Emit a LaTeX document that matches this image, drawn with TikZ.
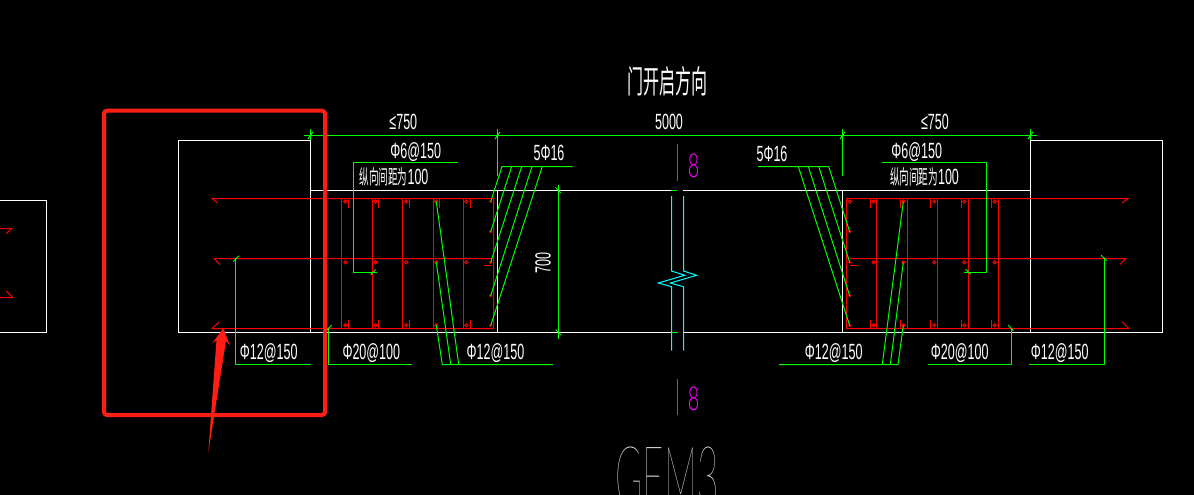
\documentclass[tikz,border=0pt]{standalone}
\usepackage{fontspec}
\newfontfamily\cadf[FakeStretch=0.57]{Liberation Sans}
\newfontfamily\cjkf[FakeStretch=0.48]{Noto Sans CJK SC}
\newfontfamily\titlef[FakeStretch=0.5]{Noto Sans CJK SC}
\newfontfamily\thinf[FakeStretch=0.6]{Lato Light}
\newfontfamily\gemf[FakeStretch=0.44]{Lato Thin}
\definecolor{cadgreen}{RGB}{0,255,0}
\definecolor{cadred}{RGB}{255,0,0}
\definecolor{cadcyan}{RGB}{0,255,255}
\definecolor{cadmag}{RGB}{255,0,255}
\definecolor{markred}{RGB}{255,30,20}
\tikzset{
  wall/.style={draw=white,line width=1pt},
  rebar/.style={draw=cadred,line width=1pt},
  lead/.style={draw=cadgreen,line width=1pt},
  breakline/.style={draw=cadcyan,line width=1pt},
  sect/.style={draw=cadmag,line width=1pt},
  lbl/.style={text=white,inner sep=0pt,font=\fontsize{22}{22}\cadf},
  cjklbl/.style={text=white,inner sep=0pt,font=\fontsize{20}{20}\cjkf},
}
\begin{document}
\begin{tikzpicture}[x=1pt,y=-1pt]
\useasboundingbox (0,0) rectangle (1194,495);
\clip (0,0) rectangle (1194,495);
\fill[black] (0,0) rectangle (1194,495);
% walls
\draw[wall] (0,200.5) -- (46.5,200.5) -- (46.5,332.5) -- (0,332.5);
\draw[wall] (310.5,190.5) -- (310.5,140.5) -- (178.5,140.5) -- (178.5,332.5) -- (671,332.5);
\draw[wall] (310.5,190.5) -- (671,190.5);
\draw[wall] (310.5,190.5) -- (310.5,332.5);
\draw[wall] (497.5,190.5) -- (497.5,332.5);
\draw[wall] (683,190.5) -- (1030.5,190.5);
\draw[wall] (683,332.5) -- (1162.5,332.5) -- (1162.5,140.5) -- (1030.5,140.5) -- (1030.5,332.5);
\draw[wall] (842.5,190.5) -- (842.5,332.5);
% left fragment bars
\draw[rebar] (0,228.5) -- (11.7,228.5) -- (6,233.7);
\draw[rebar] (0,297.5) -- (12.7,297.5) -- (6,291);
% left bars
\draw[rebar] (217.7,203) -- (212,198.5) -- (493.5,198.5) -- (493.5,328.5) -- (212,328.5) -- (219,322);
\draw[rebar] (220,264.7) -- (214,258.5) -- (491.7,258.5);
\foreach \x in {341.5,372.5,402.5,433.5,463.5} \draw[rebar] (\x,198.5) -- (\x,328.5);
\foreach \x in {348.5,378.5,409.5,439.5,470.5} \draw[rebar] (\x,198.5) -- (\x,207.7);
\foreach \x in {348.5,378.5,409.5,470.5} \draw[rebar] (\x,320) -- (\x,328.5);
\foreach \x in {345.3,375.5,406.3,436.3,466.3} \foreach \y in {201.5,262.3,325.3}
  \draw[rebar,line width=1pt] (\x,\y) circle (1.6);
\foreach \y in {201.5,231.7,262.3,295.7,325.5} \fill[cadred] (490.7,\y) circle (1.7);
\draw[rebar] (484,265.5) -- (491,265.5);
% right bars
\draw[rebar] (1122,203) -- (1128,198.5) -- (846.5,198.5) -- (846.5,328.5) -- (1128.7,328.5) -- (1122.3,322);
\draw[rebar] (1120,264.5) -- (1125.7,258.5) -- (850,258.5);
\foreach \x in {876.5,907.5,937.5,968.5,998.5} \draw[rebar] (\x,198.5) -- (\x,328.5);
\foreach \x in {870.5,900.5,930.5,961.5,991.5} {
  \draw[rebar] (\x,198.5) -- (\x,207.7);
  \draw[rebar] (\x,320) -- (\x,328.5);
}
\foreach \x in {873.5,903.3,934.3,964.3,994.7} \foreach \y in {201.5,262.3,325.3}
  \draw[rebar,line width=1pt] (\x,\y) circle (1.6);
\draw[rebar,line width=1pt] (850,201.5) circle (1.6);
\foreach \y in {231.7,262.3,295.7,325.5} \fill[cadred] (849.7,\y) circle (1.7);
\draw[rebar] (850,265.5) -- (857,265.5);
% dimension lines
\draw[lead] (304,135.5) -- (1036.7,135.5);
\draw[lead] (310.5,129) -- (310.5,140);
\draw[lead] (497.5,129) -- (497.5,176);
\draw[lead] (842.5,129) -- (842.5,175.7);
\draw[lead] (1030.5,129) -- (1030.5,140);
\foreach \x in {310.5,497.5,842.5,1030.5} \draw[lead] (\x-2.5,139) -- (\x+2.5,132);
\draw[lead] (558.5,185) -- (558.5,339);
\draw[lead] (555.5,187.5) -- (561,193);
\draw[lead] (555.5,329.5) -- (561,335);
\draw[lead] (671,190.5) -- (677,190.5);
\draw[lead] (671,332.5) -- (678,332.5);
% 5 phi 16 left
\draw[lead] (572.7,166.5) -- (502,166.5) -- (490.7,201.5);
\draw[lead] (511.7,166.5) -- (490.7,231.7);
\draw[lead] (521.7,166.5) -- (490.7,262.3);
\draw[lead] (532,166.5) -- (490.7,295.7);
\draw[lead] (542.3,166.5) -- (490.7,325.5);
% 5 phi 16 right
\draw[lead] (758,166.5) -- (828.7,166.5) -- (849.7,231.7);
\draw[lead] (818.7,166.5) -- (849.7,262.3);
\draw[lead] (808.3,166.5) -- (849.7,295.7);
\draw[lead] (798.3,166.5) -- (849.7,325.5);
% phi 6 leaders
\draw[lead] (457.7,162.5) -- (353.5,162.5) -- (353.5,272.5) -- (376.7,272.5);
\draw[lead] (370.7,274.8) -- (375.7,269.5);
\draw[lead] (882.3,162.5) -- (986.5,162.5) -- (986.5,272.5) -- (964.3,272.5);
\draw[lead] (965.7,269.3) -- (970.7,274.5);
% bottom leaders left
\draw[lead] (235.5,258.3) -- (235.5,364.5) -- (310.7,364.5);
\draw[lead] (233.3,261.7) -- (239,255.7);
\draw[lead] (328.5,328.3) -- (328.5,364.5) -- (411.7,364.5);
\draw[lead] (326,331) -- (331.7,325);
\draw[lead] (553,364.5) -- (442.3,364.5) -- (436.3,325.3);
\draw[lead] (450.7,364.5) -- (436.3,262.3);
\draw[lead] (458.7,364.5) -- (436.3,201.5);
% bottom leaders right
\draw[lead] (779,364.5) -- (898,364.5) -- (903.3,325.3);
\draw[lead] (890.3,364.5) -- (903.3,262.3);
\draw[lead] (882.3,364.5) -- (903.3,201.5);
\draw[lead] (928,364.5) -- (1011.5,364.5) -- (1011.5,328.3);
\draw[lead] (1008.3,325) -- (1013.3,330.7);
\draw[lead] (1029,364.5) -- (1104.5,364.5) -- (1104.5,258.3);
\draw[lead] (1101,255) -- (1106.7,260.7);
% break line
\draw[breakline] (671.5,196) -- (671.5,271) -- (684.7,275.3) -- (658.3,283) -- (671.5,286.7) -- (671.5,350.7);
\draw[breakline] (683.5,196) -- (683.5,271) -- (696.7,275.3) -- (670.3,283) -- (683.5,286.7) -- (683.5,350.7);
% section marks
\draw[sect] (677.5,144) -- (677.5,180.7);
\draw[sect] (677.5,379) -- (677.5,415);
\node[text=cadmag,inner sep=0pt,font=\fontsize{33}{33}\thinf] (secA) at (693.7,165.7) {8};
\node[text=cadmag,inner sep=0pt,font=\fontsize{33}{33}\thinf] (secB) at (693.7,399.3) {8};
% labels
\node[lbl] (dimA) at (403.3,122.3) {≤750};
\node[lbl] (dimB) at (669,121.5) {5000};
\node[lbl] (dimC) at (935,122.3) {≤750};
\node[lbl] (stirA) at (415.7,151.7) {Φ6@150};
\node[lbl] (stirB) at (916.7,151.7) {Φ6@150};
\node[cjklbl] (noteA) at (394,176.7) {纵向间距为{\fontsize{22}{22}\cadf 100}};
\node[cjklbl] (noteB) at (924.5,176.7) {纵向间距为{\fontsize{22}{22}\cadf 100}};
\node[lbl] (barA) at (549,153.3) {5Φ16};
\node[lbl] (barB) at (772,153.5) {5Φ16};
\node[lbl,rotate=90] (h700) at (543,263) {700};
\node[lbl] (botA) at (268.7,353.3) {Φ12@150};
\node[lbl] (botB) at (371.3,353.3) {Φ20@100};
\node[lbl] (botC) at (495.5,353.3) {Φ12@150};
\node[lbl] (botD) at (833.7,353.3) {Φ12@150};
\node[lbl] (botE) at (959.7,353.3) {Φ20@100};
\node[lbl] (botF) at (1059.7,353.3) {Φ12@150};
\node[text=white,inner sep=0pt,font=\fontsize{32}{32}\titlef] (title) at (667.5,81.7) {门开启方向};
\node[text=white,inner sep=0pt,anchor=north,font=\fontsize{84}{84}\gemf] (gem) at (667,447) {GEM3};
% annotation
\draw[markred,line width=4pt,rounded corners=3pt] (104,110.7) rectangle (325,415);
\fill[markred] (223.3,328.3) -- (230,345.7) -- (226,341) -- (208.3,452.7) -- (216.5,340) -- (212.3,343.3) -- cycle;
\end{tikzpicture}
\end{document}
